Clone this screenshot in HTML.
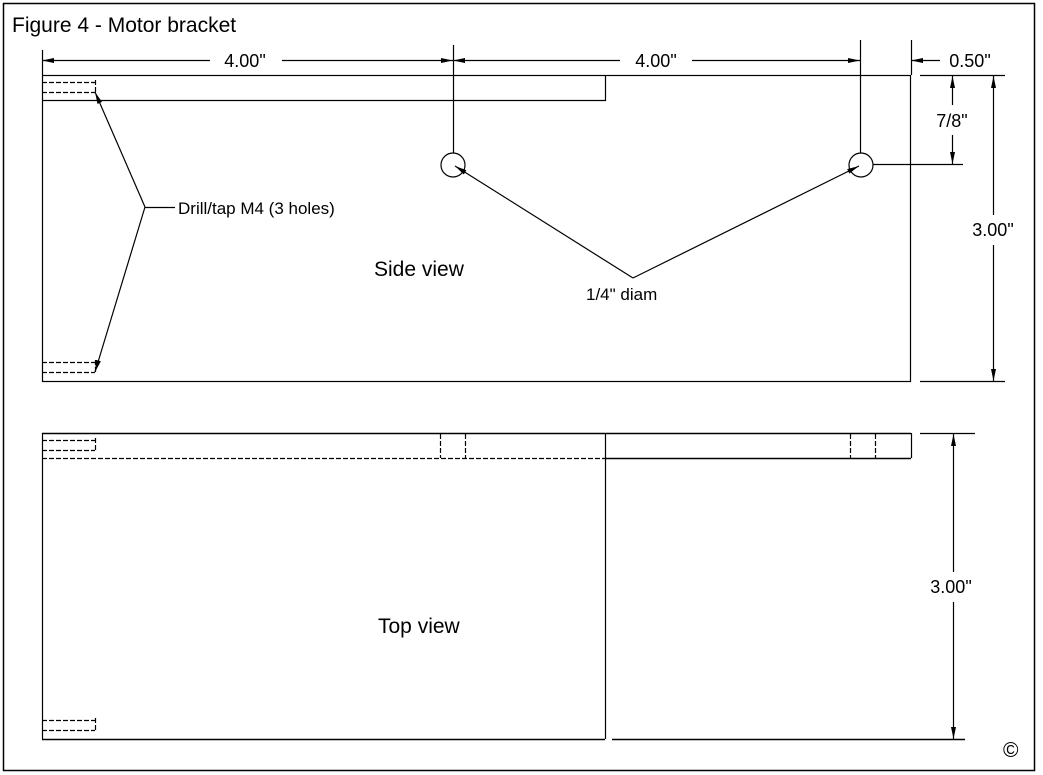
<!DOCTYPE html>
<html><head><meta charset="utf-8"><style>
html,body{margin:0;padding:0;background:#fff}
svg{display:block}
text{font-family:"Liberation Sans",Arial,sans-serif;fill:#000}
</style></head><body>
<svg width="1043" height="775" viewBox="0 0 1043 775" xmlns="http://www.w3.org/2000/svg">
<defs>
<marker id="a" viewBox="0 0 12 5" refX="12" refY="2.5" markerWidth="12" markerHeight="5" orient="auto-start-reverse" markerUnits="userSpaceOnUse"><path d="M0,0 L12,2.5 L0,5 z" fill="#000"/></marker>
</defs>
<rect x="3.5" y="3.5" width="1031" height="767" fill="none" stroke="#000" stroke-width="1.5"/>
<text x="12" y="32" font-size="21">Figure 4 - Motor bracket</text>
<g stroke="#000" stroke-width="1.2" fill="none">
<rect x="42.5" y="75.5" width="868" height="306"/>
<polyline points="42.5,100.5 605.5,100.5 605.5,75.5"/>
<line x1="42.5" y1="50" x2="42.5" y2="75"/>
<line x1="911.5" y1="40" x2="911.5" y2="75"/>
<circle cx="453" cy="165" r="12"/>
<circle cx="861" cy="165" r="12"/>
<line x1="453.5" y1="45" x2="453.5" y2="153"/>
<line x1="860.5" y1="40" x2="860.5" y2="153"/>
<line x1="873" y1="164.5" x2="963" y2="164.5"/>
<line x1="920" y1="75.5" x2="1005" y2="75.5"/>
<line x1="920" y1="381.5" x2="1005" y2="381.5"/>
<line x1="42" y1="60.5" x2="210" y2="60.5" marker-start="url(#a)"/>
<line x1="282" y1="60.5" x2="453" y2="60.5" marker-end="url(#a)"/>
<line x1="453" y1="60.5" x2="620" y2="60.5" marker-start="url(#a)"/>
<line x1="692" y1="60.5" x2="860" y2="60.5" marker-end="url(#a)"/>
<line x1="911" y1="60.5" x2="940" y2="60.5" marker-start="url(#a)"/>
<line x1="952.5" y1="76" x2="952.5" y2="105" marker-start="url(#a)"/>
<line x1="952.5" y1="135" x2="952.5" y2="164" marker-end="url(#a)"/>
<line x1="993.5" y1="76" x2="993.5" y2="215" marker-start="url(#a)"/>
<line x1="993.5" y1="245" x2="993.5" y2="381" marker-end="url(#a)"/>
<g stroke-dasharray="5,2">
<line x1="42" y1="82.5" x2="95" y2="82.5"/><line x1="42" y1="92.5" x2="95" y2="92.5"/>
<line x1="42" y1="362.5" x2="95" y2="362.5"/><line x1="42" y1="372.5" x2="95" y2="372.5"/>
<line x1="95.5" y1="80" x2="95.5" y2="94"/>
<line x1="95.5" y1="360" x2="95.5" y2="374"/>
</g>
<line x1="145" y1="207" x2="95" y2="92" marker-end="url(#a)"/>
<line x1="145" y1="207" x2="95" y2="372" marker-end="url(#a)"/>
<line x1="145" y1="207.5" x2="175" y2="207.5"/>
<line x1="633" y1="278" x2="455" y2="166" marker-end="url(#a)"/>
<line x1="633" y1="278" x2="859" y2="166" marker-end="url(#a)"/>
<line x1="42" y1="433.5" x2="911" y2="433.5" stroke-width="1.5"/>
<line x1="911.5" y1="433" x2="911.5" y2="458"/>
<line x1="605" y1="458.5" x2="911" y2="458.5" stroke-width="1.5"/>
<line x1="42" y1="458.5" x2="605" y2="458.5" stroke-dasharray="5,2"/>
<line x1="42.5" y1="433" x2="42.5" y2="739"/>
<line x1="605.5" y1="433" x2="605.5" y2="739"/>
<line x1="42" y1="739.5" x2="605" y2="739.5" stroke-width="1.5"/>
<line x1="612" y1="739.5" x2="965" y2="739.5" stroke-width="1.5"/>
<line x1="920" y1="433.5" x2="975" y2="433.5"/>
<g stroke-dasharray="5,2">
<line x1="440.5" y1="434" x2="440.5" y2="458"/><line x1="465.5" y1="434" x2="465.5" y2="458"/>
<line x1="850.5" y1="434" x2="850.5" y2="458"/><line x1="875.5" y1="434" x2="875.5" y2="458"/>
<line x1="42" y1="440.5" x2="95" y2="440.5"/><line x1="42" y1="450.5" x2="95" y2="450.5"/>
<line x1="42" y1="720.5" x2="95" y2="720.5"/><line x1="42" y1="730.5" x2="95" y2="730.5"/>
<line x1="95.5" y1="438" x2="95.5" y2="452"/><line x1="95.5" y1="718" x2="95.5" y2="732"/>
</g>
<line x1="953.5" y1="434" x2="953.5" y2="572" marker-start="url(#a)"/>
<line x1="953.5" y1="602" x2="953.5" y2="739" marker-end="url(#a)"/>
</g>
<text x="245" y="67" font-size="18" text-anchor="middle">4.00"</text>
<text x="656" y="67" font-size="18" text-anchor="middle">4.00"</text>
<text x="970" y="67" font-size="18" text-anchor="middle">0.50"</text>
<text x="952" y="127" font-size="18" text-anchor="middle">7/8"</text>
<text x="993" y="236" font-size="18" text-anchor="middle">3.00"</text>
<text x="951" y="593" font-size="18" text-anchor="middle">3.00"</text>
<text x="178" y="214" font-size="17">Drill/tap M4 (3 holes)</text>
<text x="374" y="276" font-size="21">Side view</text>
<text x="586" y="300" font-size="17">1/4" diam</text>
<text x="378" y="633" font-size="21">Top view</text>
<text x="1003" y="757" font-size="21">©</text>
</svg>
</body></html>
